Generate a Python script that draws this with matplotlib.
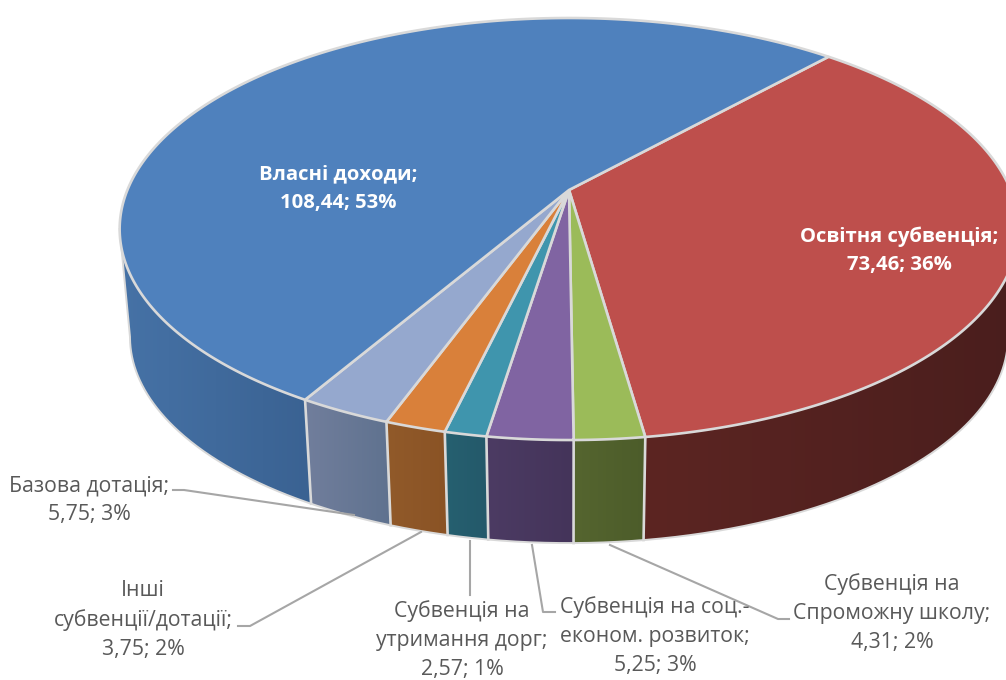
import numpy as np
import matplotlib
matplotlib.use("Agg")
import matplotlib.pyplot as plt
from matplotlib.colors import to_rgb
from matplotlib.patches import Polygon

# ---- data (clockwise from the start angle) ----
categories = ["Освітня субвенція", "Субвенція на Спроможну школу", "Субвенція на соц.-економ. розвиток",
              "Субвенція на утримання дорг", "Інші субвенції/дотації", "Базова дотація", "Власні доходи"]
values = [73.46, 4.31, 5.25, 2.57, 3.75, 5.75, 108.44]
label_texts = ["Освітня субвенція;\n73,46; 36%", "Субвенція на\nСпроможну школу;\n4,31; 2%",
               "Субвенція на соц.-\nеконом. розвиток;\n5,25; 3%", "Субвенція на\nутримання дорг;\n2,57; 1%",
               "Інші\nсубвенції/дотації;\n3,75; 2%", "Базова дотація;\n5,75; 3%", "Власні доходи;\n108,44; 53%"]
top_colors = ["#BE4F4C", "#9BBB59", "#8064A2", "#3F95AD", "#D9803A", "#95A8CE", "#4F81BD"]
side_left = ["#5C2522", "#55652F", "#4C3B63", "#266070", "#915A2A", "#717E9C", "#4672A6"]
side_right = ["#4A1E1D", "#4C5C2A", "#44345A", "#24596A", "#8A5325", "#5F728F", "#3A6292"]

# ---- projection of the pie disc ----
CX, CY = 569.0, 190.0
A, B, K = 441.6, 203.8, 0.1849
SHRINK, DEPTH = 0.977, 108.8
START = 41.95
EDGE = "#D9D9D9"


def rim(theta_deg, bottom=False):
    t = np.radians(theta_deg)
    u, v = np.sin(t), np.cos(t)
    w = 1 + K * v
    x, y = A * u / w, -B * v / w
    if bottom:
        return CX + SHRINK * x, CY + DEPTH + SHRINK * y
    return CX + x, CY + y


fig = plt.figure(figsize=(10.06, 6.8), dpi=100)
ax = fig.add_axes([0, 0, 1, 1])
ax.axis("off")

bounds = START + np.concatenate([[0], np.cumsum(values)]) / np.sum(values) * 360

# Side walls: only the front-facing arc, each with a horizontal gradient image clipped to the wall
front_lo = np.degrees(np.arccos(-K))        # silhouette on the right
front_hi = 360 - np.degrees(np.arccos(-K))  # silhouette on the left
for i in range(len(values)):
    a0 = max(bounds[i], front_lo)
    a1 = min(bounds[i + 1], front_hi)
    if a1 <= a0:
        continue
    th = np.linspace(a0, a1, 300)
    xt, yt = rim(th)
    xb, yb = rim(th, True)
    xs = np.r_[xt, xb[::-1]]
    ys = np.r_[yt, yb[::-1]]
    c0, c1 = np.array(to_rgb(side_left[i])), np.array(to_rgb(side_right[i]))
    grad = np.linspace(0, 1, 64)[None, :, None] * (c1 - c0)[None, None, :] + c0[None, None, :]
    im = ax.imshow(grad, extent=[xs.min(), xs.max(), ys.max(), ys.min()], aspect="auto",
                   interpolation="bilinear", zorder=2)
    im.set_clip_path(Polygon(np.c_[xs, ys], closed=True, transform=ax.transData))

ax.set_xlim(0, 1006)
ax.set_ylim(680, 0)

# Wall outline: bottom rim and silhouette edges
th_out = np.linspace(front_lo, front_hi, 1000)
xb, yb = rim(th_out, True)
xt0, yt0 = rim(front_lo)
xt1, yt1 = rim(front_hi)
ax.plot(np.r_[xt0, xb, xt1], np.r_[yt0, yb, yt1], color=EDGE, lw=1.4, zorder=3)

# Wall separators
for b in bounds[1:-1]:
    if np.cos(np.radians(b)) < 0:
        xt, yt = rim(b)
        xb1, yb1 = rim(b, True)
        ax.plot([xt, xb1], [yt, yb1], color=EDGE, lw=1.9, zorder=3)

# Top face
for i in range(len(values)):
    th = np.linspace(bounds[i], bounds[i + 1], 400)
    xt, yt = rim(th)
    ax.fill(np.r_[CX, xt], np.r_[CY, yt], facecolor=top_colors[i], edgecolor=EDGE, lw=1.9,
            joinstyle="round", zorder=4)

# Leader lines
leaders = [[(173, 490), (184, 490), (354, 515)],
           [(238, 626), (250, 626), (421, 532)],
           [(470, 541), (470, 595)],
           [(532, 545), (543, 612), (555, 612)],
           [(610, 545), (778, 619), (789, 619)]]
for pts in leaders:
    ax.plot(*zip(*pts), color="#A6A6A6", lw=1.5, zorder=5)

# Labels: centre x, centre y for each slice
label_x = [899, 892, 655, 462, 143, 89, 338]
label_y = [251, 613, 636, 640, 620, 500, 188.5]
font = ["Open Sans", "DejaVu Sans"]
for i, txt in enumerate(label_texts):
    big = i in (0, 6)
    ax.text(label_x[i], label_y[i], txt, ha="center", va="center", multialignment="center",
            family=font, fontsize=14.6 if big else 15.3, linespacing=1.55 if big else 1.5,
            color="white" if big else "#595959", fontweight="bold" if big else "normal", zorder=6)

fig.savefig("out.png", dpi=100, facecolor="white")
